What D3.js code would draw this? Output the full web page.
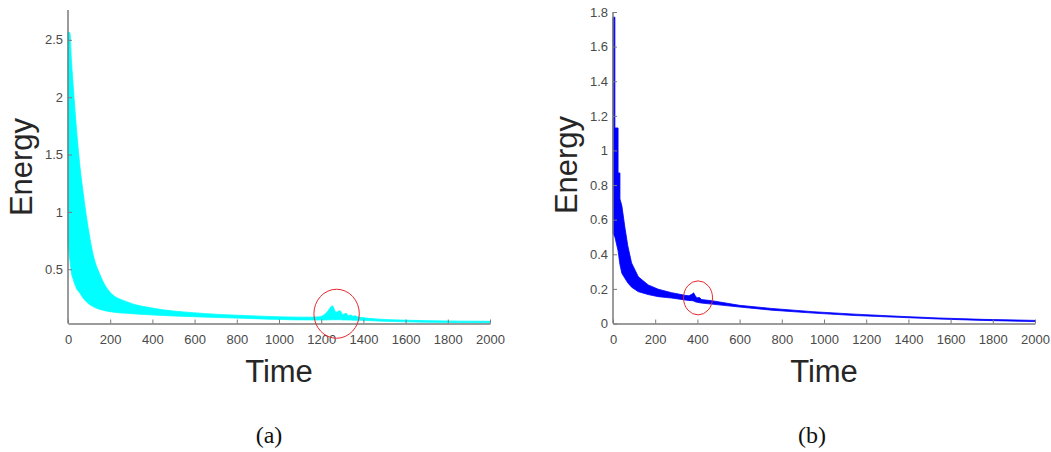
<!DOCTYPE html>
<html>
<head>
<meta charset="utf-8">
<script src="https://cdn.jsdelivr.net/npm/d3@7"></script>
<style>
  html, body { margin: 0; padding: 0; background: #fff; }
  svg { display: block; }
  .tick text { font-family: "Liberation Sans", Arial, sans-serif; font-size: 13px; fill: #4a4a4a; }
  .axis path, .axis line { stroke: #7a7a7a; }
  .axis path { stroke-width: 1.5px; }
</style>
</head>
<body>
<svg id="chart" width="1051" height="452"></svg>
<script>
// ---------- Data: panel (a) ----------
const timeA  = [0, 9, 17, 25, 41, 57, 73, 88, 120, 152, 199, 278, 404, 594, 831, 1147, 1193, 1225, 1253, 1270, 1289, 1303, 1318, 1329, 1340, 1350, 1360, 1372, 1385, 1463, 1700, 2000];
const upperA = [2.57, 2.56, 2.3, 2.09, 1.70, 1.39, 1.15, 0.95, 0.62, 0.45, 0.30, 0.217, 0.16, 0.121, 0.097, 0.082, 0.085, 0.12, 0.18, 0.125, 0.139, 0.105, 0.116, 0.095, 0.101, 0.09, 0.094, 0.085, 0.081, 0.066, 0.052, 0.046];
const lowerA = [0.73, 0.58, 0.46, 0.41, 0.33, 0.29, 0.245, 0.215, 0.173, 0.15, 0.13, 0.116, 0.101, 0.086, 0.072, 0.058, 0.058, 0.058, 0.06, 0.06, 0.06, 0.058, 0.058, 0.057, 0.057, 0.056, 0.056, 0.055, 0.055, 0.049, 0.038, 0.034];
const xTicksA = [0, 200, 400, 600, 800, 1000, 1200, 1400, 1600, 1800, 2000];
const yTicksA = [0.5, 1, 1.5, 2, 2.5];
const yDomainA = [0.027, 2.76];
const markA = { t: 1273, e: 0.112 };

// ---------- Data: panel (b) ----------
const timeB  = [0, 9, 9, 24, 24, 33, 33, 42, 57, 70, 88, 120, 167, 215, 278, 341, 360, 375, 382, 390, 398, 410, 420, 468, 600, 752, 950, 1147, 1350, 1542, 1750, 2000];
const upperB = [1.77, 1.77, 1.13, 1.13, 0.87, 0.87, 0.72, 0.68, 0.55, 0.45, 0.35, 0.27, 0.223, 0.198, 0.178, 0.163, 0.16, 0.17, 0.177, 0.16, 0.148, 0.15, 0.138, 0.132, 0.105, 0.087, 0.068, 0.054, 0.042, 0.032, 0.024, 0.018];
const lowerB = [0.52, 0.50, 0.50, 0.42, 0.42, 0.34, 0.34, 0.29, 0.26, 0.235, 0.21, 0.184, 0.167, 0.155, 0.147, 0.136, 0.133, 0.132, 0.13, 0.125, 0.123, 0.12, 0.118, 0.112, 0.095, 0.077, 0.06, 0.046, 0.036, 0.026, 0.018, 0.011];
const xTicksB = [0, 200, 400, 600, 800, 1000, 1200, 1400, 1600, 1800, 2000];
const yTicksB = [0, 0.2, 0.4, 0.6, 0.8, 1, 1.2, 1.4, 1.6, 1.8];
const yDomainB = [0, 1.8];
const markB = { t: 403, e: 0.148 };

const captions = ["(a)", "(b)"];
const xLabel = "Time";
const yLabel = "Energy";

// ---------- Drawing ----------
const svg = d3.select("#chart");

function panel(opts) {
  const { left, right, top, bottom, time, upper, lower, xTicks, yTicks, yDomain,
          color, mark, rx, ry, energyX, energyY, caption, captionX, curve } = opts;
  const x = d3.scaleLinear().domain([0, 2000]).range([left, right]);
  const y = d3.scaleLinear().domain(yDomain).range([bottom, top]);
  const g = svg.append("g");

  const data = time.map((t, i) => ({ t, u: upper[i], l: lower[i] }));
  const area = d3.area()
    .x(d => x(d.t))
    .y0(d => y(d.l))
    .y1(d => y(d.u))
    .curve(curve);
  g.append("path").datum(data).attr("d", area)
    .attr("fill", color).attr("stroke", color).attr("stroke-width", 0.8);

  const xAxis = d3.axisBottom(x).tickValues(xTicks).tickFormat(d3.format("d"))
    .tickSize(-4).tickSizeOuter(0).tickPadding(11);
  g.append("g").attr("class", "axis").attr("transform", `translate(0,${bottom})`).call(xAxis);

  const yAxis = d3.axisLeft(y).tickValues(yTicks).tickFormat(d => String(d))
    .tickSize(-4).tickSizeOuter(0).tickPadding(5);
  const ya = g.append("g").attr("class", "axis").attr("transform", `translate(${left},0)`).call(yAxis);
  ya.select(".domain").attr("d", `M0,${top}V${bottom}`);

  g.append("ellipse")
    .attr("cx", x(mark.t)).attr("cy", y(mark.e))
    .attr("rx", rx).attr("ry", ry)
    .attr("fill", "none").attr("stroke", "#e8282a").attr("stroke-width", 1);

  g.append("text").attr("x", (left + right) / 2).attr("y", 382)
    .attr("text-anchor", "middle")
    .style("font-family", "'Liberation Sans', Arial, sans-serif").style("font-size", "31px")
    .attr("fill", "#262626").text(xLabel);

  g.append("text").attr("transform", `translate(${energyX},${energyY}) rotate(-90)`)
    .attr("text-anchor", "middle")
    .style("font-family", "'Liberation Sans', Arial, sans-serif").style("font-size", "31px")
    .attr("fill", "#262626").text(yLabel);

  g.append("text").attr("x", captionX).attr("y", 443)
    .attr("text-anchor", "middle")
    .style("font-family", "'Liberation Serif', 'DejaVu Serif', serif").style("font-size", "24px")
    .attr("fill", "#111").text(caption);
}

panel({ left: 68, right: 490, top: 10, bottom: 323.5, time: timeA, upper: upperA, lower: lowerA,
  xTicks: xTicksA, yTicks: yTicksA, yDomain: yDomainA, color: "#00ffff", mark: markA, rx: 22.7, ry: 24.5,
  energyX: 32, energyY: 167, caption: captions[0], captionX: 269, curve: d3.curveMonotoneX });

panel({ left: 613, right: 1035, top: 12, bottom: 323.5, time: timeB, upper: upperB, lower: lowerB,
  xTicks: xTicksB, yTicks: yTicksB, yDomain: yDomainB, color: "#0000ff", mark: markB, rx: 14.5, ry: 17,
  energyX: 577, energyY: 165, caption: captions[1], captionX: 812, curve: d3.curveLinear });
</script>
</body>
</html>
